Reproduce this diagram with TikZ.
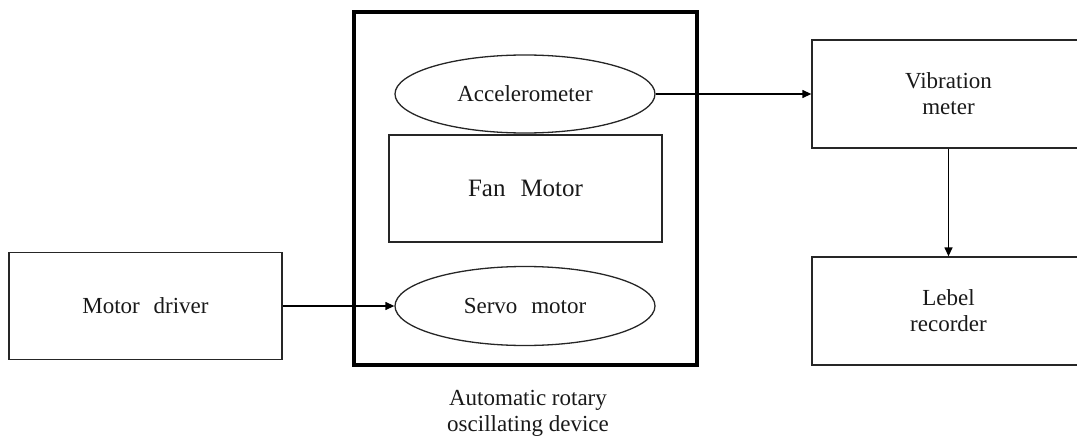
\documentclass[tikz,border=0pt]{standalone}
\usepackage{fontspec}
\setmainfont{Liberation Serif}
\usetikzlibrary{shapes.geometric,arrows.meta}

\begin{document}
\begin{tikzpicture}[x=1pt,y=-1pt,
  txt/.style={font=\fontsize{23}{26}\selectfont, text=black!90, align=center},
  block/.style={txt, draw=black!85, line width=1.3pt, rectangle, inner sep=0pt,
                minimum width=273pt, minimum height=107pt},
  oval/.style={txt, draw=black!85, line width=1.3pt, ellipse, inner sep=0pt,
               minimum width=260pt, minimum height=78pt},
  link/.style={draw=black, line width=1.3pt, -{Triangle[length=9pt,width=8pt]}}
]
\useasboundingbox (0,0) rectangle (1077,436);
\clip (0,0) rectangle (1077,436);

% left: driver
\node[block] (drv) at (145.5,306) {Motor\hspace{0.6em}driver};

% centre: the oscillating device housing
\draw[line width=3.5pt, draw=black] (354,12) rectangle (697,365);
\node[oval] (acc) at (525,94) {Accelerometer};
\node[block, minimum width=273pt, minimum height=107pt,
      font=\fontsize{25}{28}\selectfont] (fan) at (525.5,188.5) {Fan\hspace{0.6em}Motor};
\node[oval, minimum height=79pt] (srv) at (525,306) {Servo\hspace{0.6em}motor};
\node[txt] (dev) at (528,413) {Automatic rotary\\oscillating device};

% right: measurement chain
\node[block, minimum height=108pt] (vib) at (948.5,94) {Vibration\\meter};
\node[block, minimum height=108pt] (rec) at (948.5,311) {Lebel\\recorder};

% connections
\draw[link] (drv.east) -- (srv.west);
\draw[link] (acc.east) -- (vib.west);
\draw[link] (vib.south) -- (rec.north);
\end{tikzpicture}
\end{document}
